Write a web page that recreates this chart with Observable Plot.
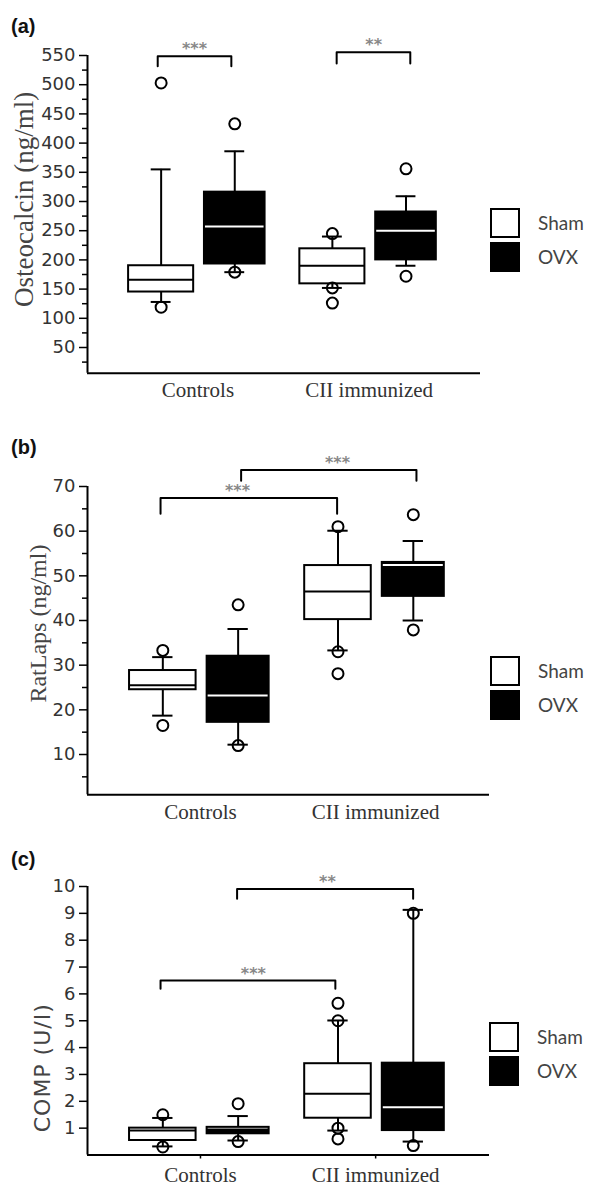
<!DOCTYPE html>
<html><head><meta charset="utf-8">
<script src="https://cdn.jsdelivr.net/npm/d3@7"></script>
<script src="https://cdn.jsdelivr.net/npm/@observablehq/plot@0.6"></script>
<style>
body{margin:0;background:#fff;}
#root{position:relative;width:600px;height:1186px;overflow:hidden;}
.panel{position:absolute;left:0;width:600px;}
.plabel{position:absolute;left:11px;font:bold 20px "Liberation Sans",Arial,sans-serif;color:#111;line-height:22px;}
.sw{position:absolute;width:30px;height:30px;box-sizing:border-box;border:2px solid #000;}
.lt{position:absolute;font:19px Lato,sans-serif;color:#444;line-height:20px;}
</style></head><body><div id="root"></div>
<script>
// ---------- shared categories ----------
const groups = ["Controls", "CII immunized"];
const treatments = ["Sham", "OVX"];
// order of boxes: Controls-Sham, Controls-OVX, CII-Sham, CII-OVX

// ---------- (a) Osteocalcin ----------
const osteoLow  = [128, 179, 152, 190];
const osteoQ1   = [145, 193, 159, 200];
const osteoMed  = [166, 257, 190, 250];
const osteoQ3   = [190, 316, 219, 282];
const osteoHigh = [355, 386, 240, 309];
const osteoOut  = [[503, 119], [433, 179], [245, 152, 126], [356, 172]];
const osteoTicks = [50, 100, 150, 200, 250, 300, 350, 400, 450, 500, 550];
const osteoMinor = [25, 75, 125, 175, 225, 275, 325, 375, 425, 475, 525];
const osteoBrX1 = [-0.235, 0.81];
const osteoBrX2 = [0.195, 1.24];
const osteoBrTop = [548.8, 555.6];
const osteoBrEnd = [531.7, 536.3];
const osteoBrStarX = [-0.02, 1.026];
const osteoBrText = ["***", "**"];

// ---------- (b) RatLaps ----------
const ratLow  = [18.7, 12.2, 33.3, 40.0];
const ratQ1   = [24.5, 17.2, 40.2, 45.4];
const ratMed  = [25.5, 23.2, 46.5, 52.4];
const ratQ3   = [28.8, 32.0, 52.3, 53.0];
const ratHigh = [31.8, 38.1, 60.1, 57.8];
const ratOut  = [[33.3, 16.5], [43.5, 12.0], [61.0, 33.0, 28.1], [63.7, 37.9]];
const ratTicks = [10, 20, 30, 40, 50, 60, 70];
const ratMinor = [5, 15, 25, 35, 45, 55, 65];
const ratBrX1 = [-0.228, 0.232];
const ratBrX2 = [0.78, 1.233];
const ratBrTop = [67.4, 73.7];
const ratBrEnd = [63.9, 71.3];
const ratBrStarX = [0.211, 0.782];
const ratBrText = ["***", "***"];

// ---------- (c) COMP ----------
const compLow  = [0.32, 0.54, 0.91, 0.50];
const compQ1   = [0.54, 0.79, 1.37, 0.91];
const compMed  = [0.91, 1.02, 2.28, 1.78];
const compQ3   = [1.00, 1.03, 3.40, 3.42];
const compHigh = [1.38, 1.45, 5.01, 9.13];
const compOut  = [[1.5, 0.3], [1.91, 0.5], [5.65, 5.0, 1.0, 0.6], [9.0, 0.35]];
const compTicks = [1, 2, 3, 4, 5, 6, 7, 8, 9, 10];
const compBrX1 = [-0.228, 0.209];
const compBrX2 = [0.77, 1.214];
const compBrTop = [6.50, 9.91];
const compBrEnd = [6.19, 9.54];
const compBrStarX = [0.302, 0.725];
const compBrText = ["***", "**"];

const xDomain = [-0.645, 1.65];
const offset = 0.215;
const halfW = [0.19, 0.177];
const capW = 0.058;

function buildBoxes(low, q1, med, q3, high) {
  return low.map((_, i) => {
    const g = Math.floor(i / 2), t = i % 2;
    return {g, t, cx: g + (t ? offset : -offset), hw: halfW[t],
      low: low[i], q1: q1[i], med: med[i], q3: q3[i], high: high[i]};
  });
}
function buildOutliers(out) {
  const r = [];
  out.forEach((vals, i) => {
    const g = Math.floor(i / 2), t = i % 2;
    vals.forEach(v => r.push({cx: g + (t ? offset : -offset), v}));
  });
  return r;
}
function buildBrackets(x1, x2, top, end, sx, txt) {
  const pts = [], lab = [];
  x1.forEach((_, i) => {
    pts.push({k: i, x: x1[i], y: end[i]}, {k: i, x: x1[i], y: top[i]},
             {k: i, x: x2[i], y: top[i]}, {k: i, x: x2[i], y: end[i]});
    lab.push({x: sx[i], y: top[i], text: txt[i]});
  });
  return {pts, lab};
}

const panels = [
  {top: 0, height: 405, mt: 55, mb: 32.3, mr: 120, domain: [6, 550],
   boxes: buildBoxes(osteoLow, osteoQ1, osteoMed, osteoQ3, osteoHigh),
   out: buildOutliers(osteoOut), ticks: osteoTicks, minor: osteoMinor,
   br: buildBrackets(osteoBrX1, osteoBrX2, osteoBrTop, osteoBrEnd, osteoBrStarX, osteoBrText),
   label: "Osteocalcin (ng/ml)", lfont: "Liberation Serif", lsize: 27, ldx: -63, ldy: -15, lspace: 0,
   xTick: 0, xPad: 9},
  {top: 405, height: 425, mt: 81, mb: 35.8, mr: 111, domain: [1, 70],
   boxes: buildBoxes(ratLow, ratQ1, ratMed, ratQ3, ratHigh),
   out: buildOutliers(ratOut), ticks: ratTicks, minor: ratMinor,
   br: buildBrackets(ratBrX1, ratBrX2, ratBrTop, ratBrEnd, ratBrStarX, ratBrText),
   label: "RatLaps (ng/ml)", lfont: "Liberation Serif", lsize: 24, ldx: -49, ldy: -17, lspace: 0,
   xTick: 0, xPad: 9},
  {top: 830, height: 356, mt: 56, mb: 31.5, mr: 111, domain: [0, 10],
   boxes: buildBoxes(compLow, compQ1, compMed, compQ3, compHigh),
   out: buildOutliers(compOut), ticks: compTicks, minor: [],
   br: buildBrackets(compBrX1, compBrX2, compBrTop, compBrEnd, compBrStarX, compBrText),
   label: "COMP (U/I)", lfont: "DejaVu Sans", lsize: 22, ldx: -45, ldy: 47, lspace: 1,
   xTick: 4, xPad: 8}
];

const root = document.getElementById("root");
const panelLabels = ["(a)", "(b)", "(c)"];
const panelLabelTop = [15, 436, 848];
const legendBoxTop = [[208, 242], [656, 690], [1022, 1056]];
const legendTextTop = [[213, 247], [661, 695], [1027, 1061]];
const legendBoxLeft = [490, 490, 489];
const legendFills = ["#fff", "#000"];

panels.forEach((p, pi) => {
  const B = p.boxes;
  const marks = [
    // axes lines
    Plot.ruleY([p.domain[0]], {stroke: "#000", strokeWidth: 2}),
    Plot.ruleX([xDomain[0]], {y1: p.domain[0], y2: p.domain[1], stroke: "#000", strokeWidth: 2}),
    Plot.axisY(p.ticks, {tickSize: 8, tickPadding: 4, fontSize: 18, fontFamily: "DejaVu Sans",
      fill: "#333", stroke: "#000", strokeWidth: 1.5, label: null}),
    p.minor.length ? Plot.axisY(p.minor, {tickSize: 5, fill: "none", stroke: "#000", strokeWidth: 1.5, label: null}) : null,
    Plot.axisX([0, 1], {tickSize: p.xTick, tickPadding: p.xPad, tickFormat: d => groups[d],
      fontSize: 21, fontFamily: "Liberation Serif", fill: "#333", stroke: "#000", strokeWidth: 1.5, label: null}),
    // y label
    Plot.text([p.label], {text: d => d, frameAnchor: "left", textAnchor: "middle", rotate: -90,
      dx: p.ldx, dy: p.ldy, fontSize: p.lsize, fontFamily: p.lfont, fill: "#444"}),
    // whiskers
    Plot.ruleX(B, {x: "cx", y1: "q3", y2: "high", stroke: "#000", strokeWidth: 2}),
    Plot.ruleX(B, {x: "cx", y1: "low", y2: "q1", stroke: "#000", strokeWidth: 2}),
    Plot.ruleY(B, {y: "high", x1: d => d.cx - capW, x2: d => d.cx + capW, stroke: "#000", strokeWidth: 2}),
    Plot.ruleY(B, {y: "low", x1: d => d.cx - capW, x2: d => d.cx + capW, stroke: "#000", strokeWidth: 2}),
    // boxes
    Plot.rect(B, {filter: d => d.t === 0, x1: d => d.cx - d.hw, x2: d => d.cx + d.hw, y1: "q1", y2: "q3", fill: "#fff"}),
    Plot.rect(B, {filter: d => d.t === 1, x1: d => d.cx - d.hw, x2: d => d.cx + d.hw, y1: "q1", y2: "q3", fill: "#000"}),
    Plot.ruleY(B, {filter: d => d.t === 0, y: "med", x1: d => d.cx - d.hw, x2: d => d.cx + d.hw, stroke: "#000", strokeWidth: 2}),
    Plot.ruleY(B, {filter: d => d.t === 1, y: "med", x1: d => d.cx - d.hw, x2: d => d.cx + d.hw, stroke: "#fff", strokeWidth: 2}),
    Plot.rect(B, {x1: d => d.cx - d.hw, x2: d => d.cx + d.hw, y1: "q1", y2: "q3", fill: "none", stroke: "#000", strokeWidth: 2}),
    // outliers
    Plot.dot(p.out, {x: "cx", y: "v", r: 5.5, fill: "none", stroke: "#000", strokeWidth: 2}),
    // significance brackets
    Plot.line(p.br.pts, {x: "x", y: "y", z: "k", stroke: "#000", strokeWidth: 2, curve: "linear"}),
    Plot.text(p.br.lab, {x: "x", y: "y", text: "text", dy: -7, fontSize: 16, fontFamily: "DejaVu Sans",
      fill: "#888", fontWeight: "bold"})
  ].filter(Boolean);

  const chart = Plot.plot({
    width: 600, height: p.height,
    marginTop: p.mt, marginBottom: p.mb, marginLeft: 87, marginRight: p.mr,
    x: {type: "linear", domain: xDomain},
    y: {type: "linear", domain: p.domain},
    style: {background: "transparent", overflow: "visible"},
    marks
  });
  const wrap = document.createElement("div");
  wrap.className = "panel";
  wrap.style.top = p.top + "px";
  wrap.appendChild(chart);
  root.appendChild(wrap);

  if (p.lspace) {
    chart.querySelectorAll("text").forEach(t => { if (t.textContent === p.label) t.setAttribute("letter-spacing", p.lspace); });
  }

  const pl = document.createElement("div");
  pl.className = "plabel";
  pl.style.top = panelLabelTop[pi] + "px";
  pl.textContent = panelLabels[pi];
  root.appendChild(pl);

  treatments.forEach((tr, ti) => {
    const sw = document.createElement("div");
    sw.className = "sw";
    sw.style.left = legendBoxLeft[pi] + "px";
    sw.style.top = legendBoxTop[pi][ti] + "px";
    sw.style.background = legendFills[ti];
    root.appendChild(sw);
    const lt = document.createElement("div");
    lt.className = "lt";
    lt.style.left = (legendBoxLeft[pi] + 48) + "px";
    lt.style.top = legendTextTop[pi][ti] + "px";
    lt.textContent = tr;
    root.appendChild(lt);
  });
});
</script></body></html>
